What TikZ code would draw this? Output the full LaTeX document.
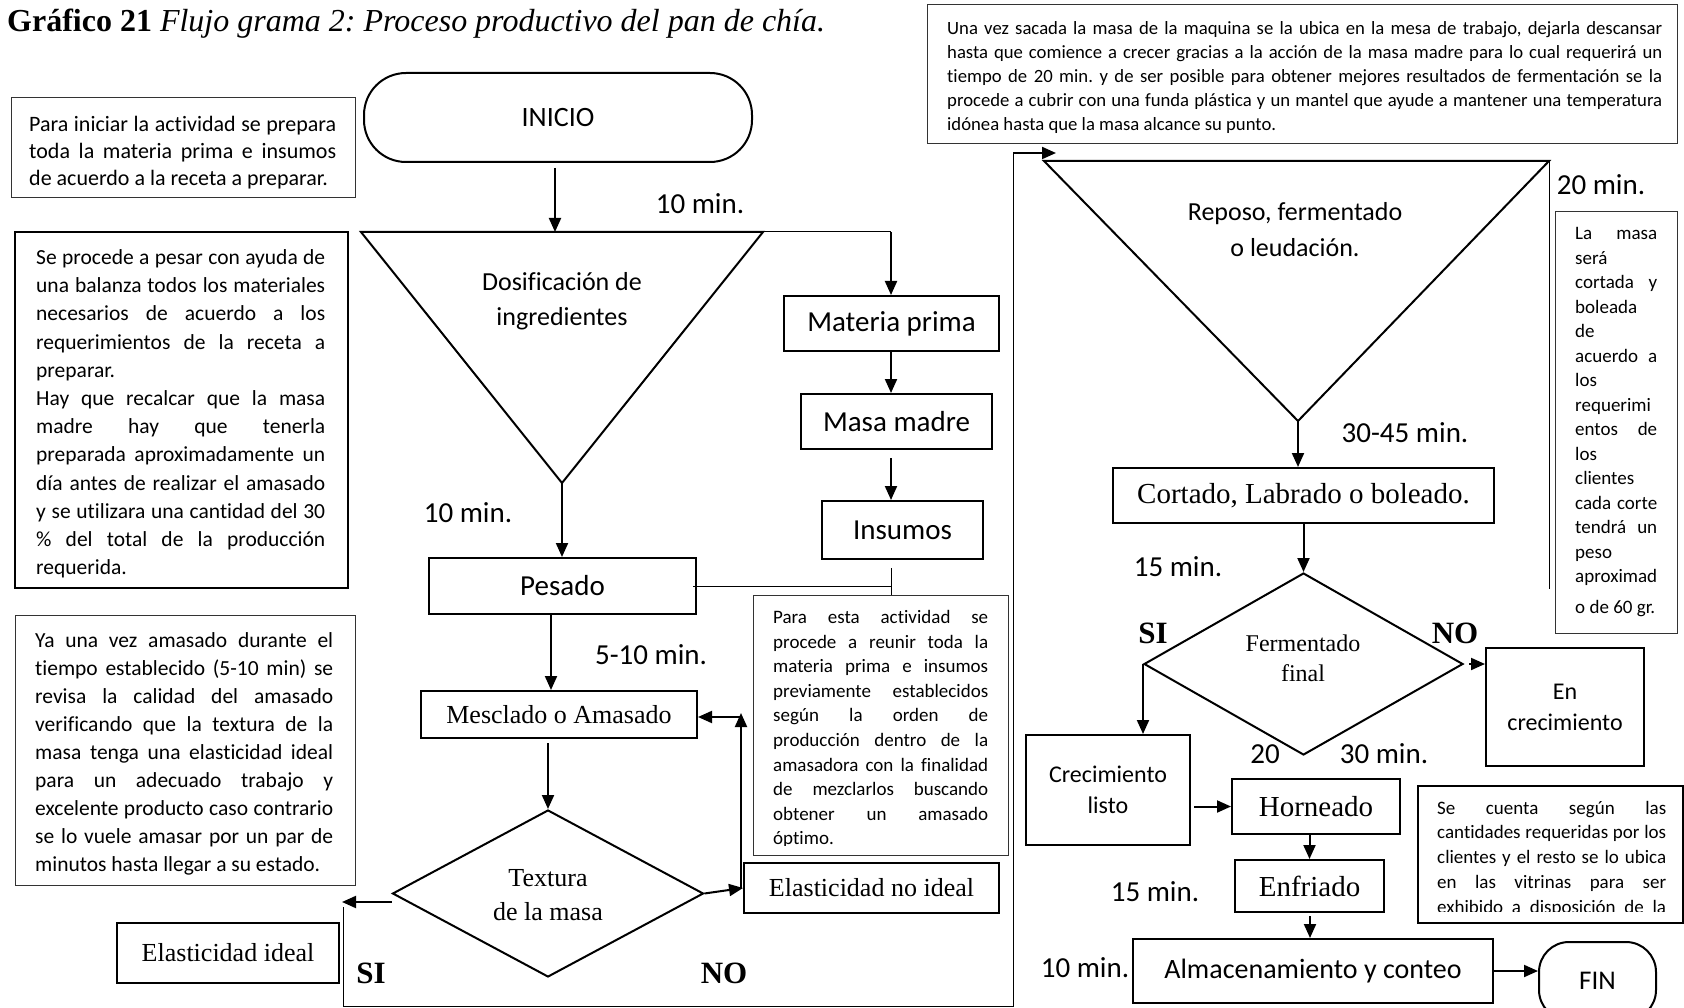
\documentclass[tikz,border=0pt]{standalone}
\usepackage{fontspec}
\setmainfont{Carlito}[Ligatures=NoCommon]
\newfontfamily\tnr{Liberation Serif}
\usetikzlibrary{arrows.meta,calc,shapes.geometric}
\frenchspacing
\newcommand\fsz[2]{\fontsize{#1}{#2}\selectfont}
% one justified line of a hand-broken paragraph
\newcommand\jl[1]{\makebox[\linewidth][s]{#1}\\}

\begin{document}
\begin{tikzpicture}[x=1pt,y=-1pt,
  proc/.style={draw,line width=2pt,inner sep=0pt,align=center},
  dec/.style={draw,diamond,line width=2pt,inner sep=0pt},
  note/.style={draw=black!80,line width=1.2pt,inner sep=0pt,anchor=north west},
  strongnote/.style={draw,line width=2pt,inner sep=0pt,anchor=north west},
  arr/.style={line width=2pt,-{Triangle[length=14pt,width=12pt]}},
  link/.style={line width=1pt},
  tlabel/.style={inner sep=0pt,font=\fsz{29}{34}},
  yesno/.style={inner sep=0pt,font=\tnr\bfseries\fsz{31}{31}},
  para/.style={inner sep=0pt,anchor=base west}
]
\useasboundingbox (0,0) rectangle (1684,1008);

% ---------- title ----------
\node[anchor=base west,inner sep=0pt,font=\tnr\fsz{32}{32}] (title) at (7,32)
  {\textbf{Gráfico 21} \textit{Flujo grama 2: Proceso productivo del pan de chía.}};

% ---------- explanatory notes, left column ----------
\node[note,minimum width=344pt,minimum height=100pt] (n1) at (11,97) {};
\node[para] (p1) at (29,132) {\parbox[t]{307pt}{\fsz{22}{27}%
  \jl{Para iniciar la actividad se prepara}%
  \jl{toda la materia prima e insumos}%
  de acuerdo a la receta a preparar.}};

\node[strongnote,minimum width=333pt,minimum height=356pt] (n2) at (14,231) {};
\node[para] (p2) at (36,264.5) {\parbox[t]{289pt}{\fsz{21.5}{28.2}%
  \jl{Se procede a pesar con ayuda de}%
  \jl{una balanza todos los materiales}%
  \jl{necesarios de acuerdo a los}%
  \jl{requerimientos de la receta a}%
  preparar.\\
  \jl{Hay que recalcar que la masa}%
  \jl{madre hay que tenerla}%
  \jl{preparada aproximadamente un}%
  \jl{día antes de realizar el amasado}%
  \jl{y se utilizara una cantidad del 30}%
  \jl{\% del total de la producción}%
  requerida.}};

\node[note,minimum width=340pt,minimum height=270pt] (n3) at (15,615) {};
\node[para] (p3) at (35,647) {\parbox[t]{298pt}{\fsz{21.5}{28.1}%
  \jl{Ya una vez amasado durante el}%
  \jl{tiempo establecido (5-10 min) se}%
  \jl{revisa la calidad del amasado}%
  \jl{verificando que la textura de la}%
  \jl{masa tenga una elasticidad ideal}%
  \jl{para un adecuado trabajo y}%
  \jl{excelente producto caso contrario}%
  \jl{se lo vuele amasar por un par de}%
  minutos hasta llegar a su estado.}};

% ---------- first part of the process ----------
\node[proc,rounded corners=42pt,minimum width=388pt,minimum height=89pt,font=\fsz{28}{34}] (inicio) at (558,117.5) {INICIO};

\coordinate (dTL) at (361,232);
\coordinate (dTR) at (763,232);
\coordinate (dB) at (562,483);
\coordinate (dIn) at (555,232);
\draw[line width=2pt] (dTL) -- (dTR) -- (dB) -- cycle;
\node[inner sep=0pt,align=center,font=\fsz{26}{35}] (dosif) at (562,301) {Dosificación de\\ingredientes};

\node[proc,minimum width=215pt,minimum height=55pt,font=\fsz{29}{34}] (mp) at (891.5,323.5) {Materia prima};
\node[proc,minimum width=191pt,minimum height=55pt,font=\fsz{29}{34}] (mm) at (896.5,421.5) {Masa madre};
\node[proc,minimum width=161pt,minimum height=58pt,font=\fsz{29}{34}] (ins) at (902.5,530) {Insumos};
\node[proc,minimum width=267pt,minimum height=56pt,font=\fsz{29}{34}] (pes) at (562.5,586) {Pesado};
\node[proc,minimum width=276pt,minimum height=47pt,font=\tnr\fsz{26}{30}] (mez) at (559,714.5) {Mesclado o Amasado};
\node[dec,minimum width=311pt,minimum height=167pt] (tex) at (548,893.5) {};
\node[inner sep=0pt,align=center,font=\tnr\fsz{26}{34}] (texl) at (548,895) {Textura\\de la masa};
\node[proc,minimum width=255pt,minimum height=50pt,font=\tnr\fsz{26}{30}] (eni) at (871.5,888) {Elasticidad no ideal};
\node[proc,minimum width=222pt,minimum height=60pt,font=\tnr\fsz{26}{30}] (ei) at (228,953) {Elasticidad ideal};

\node[note,minimum width=255pt,minimum height=260pt] (n4) at (753,595) {};
\begin{scope}
  \clip (753,595) rectangle (1008,845);
  \node[para] (p4) at (773,623.5) {\parbox[t]{215pt}{\fsz{19}{24.6}%
    \jl{Para esta actividad se}%
    \jl{procede a reunir toda la}%
    \jl{materia prima e insumos}%
    \jl{previamente establecidos}%
    \jl{según la orden de}%
    \jl{producción dentro de la}%
    \jl{amasadora con la finalidad}%
    \jl{de mezclarlos buscando}%
    \jl{obtener un amasado}%
    óptimo.}};
\end{scope}

\node[tlabel] (t1) at (700,204) {10 min.};
\node[tlabel] (t2) at (468,513) {10 min.};
\node[tlabel] (t3) at (651,655) {5-10 min.};
\node[yesno] (si1) at (371,973) {SI};
\node[yesno] (no1) at (724,973) {NO};

% connectors, first part
\coordinate (colR) at (891,0);
\coordinate (colM) at (551,0);
\coordinate (siL) at (342,902);
\coordinate (retC) at (741,717);
\coordinate (loopA) at (343,907);
\coordinate (loopB) at (343,1006);
\coordinate (loopC) at (1013,1006);
\coordinate (loopD) at (1013,153);
\coordinate (repIn) at (1056,153);

\draw[arr] ($(inicio.south -| dIn)+(0,5)$) -- (dIn);
\draw[link] (dTR) -- (colR |- dTR);
\draw[arr] (colR |- dTR) -- (colR |- mp.north);
\draw[arr] (colR |- mp.south) -- (colR |- mm.north);
\draw[arr] ($(colR |- mm.south)+(0,8)$) -- (colR |- ins.north);
\draw[link] ($(colR |- ins.south)+(0,8)$) -- (colR |- n4.north);
\draw[link] (colR |- pes.east) -- ($(pes.east)+(-4,0)$);
\draw[arr] (dB) -- (dB |- pes.north);
\draw[arr] (colM |- pes.south) -- (colM |- mez.north);
\draw[arr] ($(tex.north |- mez.south)+(0,4)$) -- (tex.north);
\draw[arr] (tex.west |- siL) -- (siL);
\draw[arr] (tex.east) -- (eni.west);
\draw[arr] (retC |- eni.west) -- ($(retC)+(0,-4)$);
\draw[arr] (retC) -- (retC -| mez.east);
\draw[link] (loopA) -- (loopB) -- (loopC) -- (loopD);
\draw[arr] (loopD) -- (repIn);

% ---------- second part of the process ----------
\node[note,minimum width=750pt,minimum height=139pt] (n5) at (927,4) {};
\node[para] (p5) at (947,35) {\parbox[t]{715pt}{\fsz{18.7}{24}%
  \jl{Una vez sacada la masa de la maquina se la ubica en la mesa de trabajo, dejarla descansar}%
  \jl{hasta que comience a crecer gracias a la acción de la masa madre para lo cual requerirá un}%
  \jl{tiempo de 20 min. y de ser posible para obtener mejores resultados de fermentación se la}%
  \jl{procede a cubrir con una funda plástica y un mantel que ayude a mantener una temperatura}%
  idónea hasta que la masa alcance su punto.}};

\coordinate (rTL) at (1044,161);
\coordinate (rTR) at (1549,161);
\coordinate (rB) at (1298,421);
\coordinate (rSide) at (1549,589);
\draw[line width=2pt] (rTL) -- (rTR) -- (rB) -- cycle;
\draw[link] (rTR) -- (rSide);
\node[inner sep=0pt,align=center,font=\fsz{26}{36}] (repl) at (1295,230) {Reposo, fermentado\\o leudación.};

\node[note,minimum width=122pt,minimum height=422pt] (n6) at (1555,211) {};
\node[para] (p6) at (1575,240) {\parbox[t]{82pt}{\fsz{19}{24.5}%
  \jl{La masa}%
  será\\
  \jl{cortada y}%
  boleada\\
  de\\
  \jl{acuerdo a}%
  los\\
  requerimi\\
  \jl{entos de}%
  los\\
  clientes\\
  \jl{cada corte}%
  \jl{tendrá un}%
  peso\\
  aproximad\\[6.5pt]
  o de 60 gr.}};

\node[proc,minimum width=381pt,minimum height=55pt,font=\tnr\fsz{29}{34}] (cor) at (1303.5,495.5) {Cortado, Labrado o boleado.};
\node[dec,minimum width=319pt,minimum height=182pt] (fer) at (1303.5,664) {};
\node[inner sep=0pt,align=center,font=\tnr\fsz{24}{30}] (ferl) at (1303,658) {Fermentado\\final};
\node[proc,minimum width=158pt,minimum height=118pt,font=\fsz{24}{31}] (enc) at (1565,707) {En\\crecimiento};
\node[proc,minimum width=164pt,minimum height=110pt,font=\fsz{24}{31}] (cl) at (1108,790) {Crecimiento\\listo};
\node[proc,minimum width=168pt,minimum height=55pt,font=\tnr\fsz{29}{34}] (hor) at (1316,806.5) {Horneado};
\node[proc,minimum width=149pt,minimum height=52pt,font=\tnr\fsz{29}{34}] (enf) at (1309.5,886) {Enfriado};
\node[proc,minimum width=360pt,minimum height=64pt,font=\fsz{28}{34}] (alm) at (1313,971) {Almacenamiento y conteo};
\node[proc,rounded corners=30pt,minimum width=117pt,minimum height=78pt,font=\fsz{27}{32}] (fin) at (1597.5,981) {FIN};

\node[strongnote,minimum width=265pt,minimum height=137pt] (n7) at (1417,785) {};
\begin{scope}
  \clip (1417,785) rectangle (1682,911);
  \node[para] (p7) at (1437,814) {\parbox[t]{229pt}{\fsz{19}{24.75}%
    \jl{Se cuenta según las}%
    \jl{cantidades requeridas por los}%
    \jl{clientes y el resto se lo ubica}%
    \jl{en las vitrinas para ser}%
    \jl{exhibido a disposición de la}%
    }};
\end{scope}

\node[tlabel] (t4) at (1601,185) {20 min.};
\node[tlabel] (t5) at (1405,433) {30-45 min.};
\node[tlabel] (t6) at (1178,567) {15 min.};
\node[tlabel] (t7) at (1265,754) {20};
\node[tlabel] (t8) at (1384,754) {30 min.};
\node[tlabel] (t9) at (1155,892) {15 min.};
\node[tlabel] (t10) at (1085,968) {10 min.};
\node[yesno] (si2) at (1153,633) {SI};
\node[yesno] (no2) at (1455,633) {NO};

% connectors, second part
\draw[arr] (rB) -- (rB |- cor.north);
\draw[arr] (fer.north |- cor.south) -- (fer.north);
\draw[arr] (fer.west) -- (fer.west |- cl.north);
\draw[arr] ($(fer.east)+(5,0)$) -- (enc.west |- fer.east);
\draw[arr] ($(cl.east |- hor.west)+(3,0)$) -- (hor.west);
\draw[arr] (enf.north |- hor.south) -- (enf.north);
\draw[arr] ($(alm.north |- enf.south)+(-3,3)$) -- ($(alm.north)+(-3,0)$);
\draw[arr] (alm.east) -- (alm.east -| fin.west);
\end{tikzpicture}
\end{document}
